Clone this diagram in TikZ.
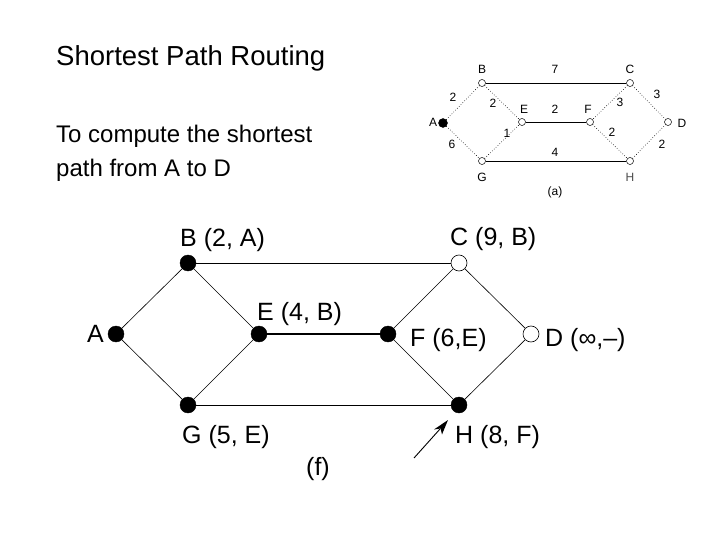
\documentclass[tikz,border=0pt]{standalone}
\usepackage{fontspec}
\setmainfont{Liberation Sans}
\usetikzlibrary{arrows.meta}
\begin{document}
\begin{tikzpicture}[x=1pt,y=-1pt,
  bigfill/.style={circle,fill=black,draw=black,minimum size=16pt,inner sep=0pt},
  bigopen/.style={circle,fill=white,draw=black,line width=0.6pt,minimum size=16pt,inner sep=0pt},
  smallopen/.style={circle,fill=white,draw=black,line width=0.5pt,minimum size=7pt,inner sep=0pt},
  smallfill/.style={circle,fill=black,draw=black,minimum size=9pt,inner sep=0pt},
  bigedge/.style={draw=black,line width=0.6pt},
  smalledge/.style={draw=black,line width=0.6pt},
  smalldot/.style={draw=black,line width=0.6pt,dotted},
  biglab/.style={font=\fontsize{25}{28}\selectfont,anchor=base west,inner sep=0pt},
  smalllab/.style={font=\fontsize{12}{13}\selectfont,inner sep=0pt},
  txt/.style={anchor=base west,inner sep=0pt}
]
\useasboundingbox (0,0) rectangle (720,540);

% text
\node[txt,font=\fontsize{27.5}{31}\selectfont] (title) at (56,66) {Shortest Path Routing};
\node[txt,font=\fontsize{24}{28}\selectfont] (body1) at (56,143) {To compute the shortest};
\node[txt,font=\fontsize{24}{28}\selectfont] (body2) at (56,177) {path from A to D};

% small graph (a)
\node[smallfill] (sA) at (443,123) {};
\node[smallopen] (sB) at (482,83) {};
\node[smallopen] (sC) at (630,83) {};
\node[smallopen] (sE) at (522,122) {};
\node[smallopen] (sF) at (590,122) {};
\node[smallopen] (sD) at (668,122) {};
\node[smallopen] (sG) at (482,161) {};
\node[smallopen] (sH) at (630,161) {};
\draw[smalledge] (sB) -- (sC);
\draw[smalledge] (sE) -- (sF);
\draw[smalledge] (sG) -- (sH);
\draw[smalldot] (sA) -- (sB);
\draw[smalldot] (sA) -- (sG);
\draw[smalldot] (sB) -- (sE);
\draw[smalldot] (sG) -- (sE);
\draw[smalldot] (sC) -- (sF);
\draw[smalldot] (sF) -- (sH);
\draw[smalldot] (sC) -- (sD);
\draw[smalldot] (sH) -- (sD);

\node[smalllab] (lsA) at (433,122) {A};
\node[smalllab] (lsB) at (482,69) {B};
\node[smalllab] (lsC) at (630,69) {C};
\node[smalllab] (lsE) at (524,109) {E};
\node[smalllab] (lsF) at (588,109) {F};
\node[smalllab] (lsD) at (682,123) {D};
\node[smalllab] (lsG) at (482,177) {G};
\node[smalllab,text=black!70] (lsH) at (630,177) {H};
\node[smalllab] (lsa) at (555,192) {(a)};
\node[smalllab] (w7) at (555,69) {7};
\node[smalllab] (w2a) at (453,97) {2};
\node[smalllab] (w2b) at (493,103) {2};
\node[smalllab] (w2c) at (555,109) {2};
\node[smalllab] (w3a) at (620,102) {3};
\node[smalllab] (w3b) at (657,94) {3};
\node[smalllab] (w1) at (507,133) {1};
\node[smalllab] (w6) at (452,144) {6};
\node[smalllab] (w4) at (555,152) {4};
\node[smalllab] (w2d) at (612,132) {2};
\node[smalllab] (w2e) at (662,144) {2};

% big graph (f)
\coordinate (pA) at (116,334);
\coordinate (pB) at (188,263);
\coordinate (pC) at (459,263);
\coordinate (pE) at (259,334);
\coordinate (pF) at (388,334);
\coordinate (pD) at (531,334);
\coordinate (pG) at (188,405);
\coordinate (pH) at (459,405);
\draw[bigedge] (pA) -- (pB);
\draw[bigedge] (pA) -- (pG);
\draw[bigedge] (pB) -- (pE);
\draw[bigedge] (pG) -- (pE);
\draw[bigedge] (pB) -- (pC);
\draw[bigedge] (pG) -- (pH);
\draw[draw=black,line width=1.6pt] (pE) -- (pF);
\draw[bigedge] (pC) -- (pF);
\draw[bigedge] (pF) -- (pH);
\draw[bigedge] (pC) -- (pD);
\draw[bigedge] (pH) -- (pD);
\node[bigfill] (A) at (pA) {};
\node[bigfill] (B) at (pB) {};
\node[bigopen] (C) at (pC) {};
\node[bigfill] (E) at (pE) {};
\node[bigfill] (F) at (pF) {};
\node[bigopen] (D) at (pD) {};
\node[bigfill] (G) at (pG) {};
\node[bigfill] (H) at (pH) {};

\node[biglab] (lA) at (87,342) {A};
\node[biglab] (lB) at (180,247) {B (2, A)};
\node[biglab] (lC) at (450,245) {C (9, B)};
\node[biglab] (lE) at (257,320) {E (4, B)};
\node[biglab] (lF) at (410,346) {F (6,E)};
\node[biglab] (lD) at (545,346) {D (∞,–)};
\node[biglab] (lG) at (182,443) {G (5, E)};
\node[biglab] (lH) at (455,443) {H (8, F)};
\node[biglab] (lf) at (306,475) {(f)};

\coordinate (arrtail) at (414,458);
\coordinate (arrhead) at (448,420);
\draw[line width=0.9pt] (arrtail) -- (440,429);
\fill[black] (arrhead) -- (442,434.5) -- (440.5,428.5) -- (434,429.5) -- cycle;
\end{tikzpicture}
\end{document}
